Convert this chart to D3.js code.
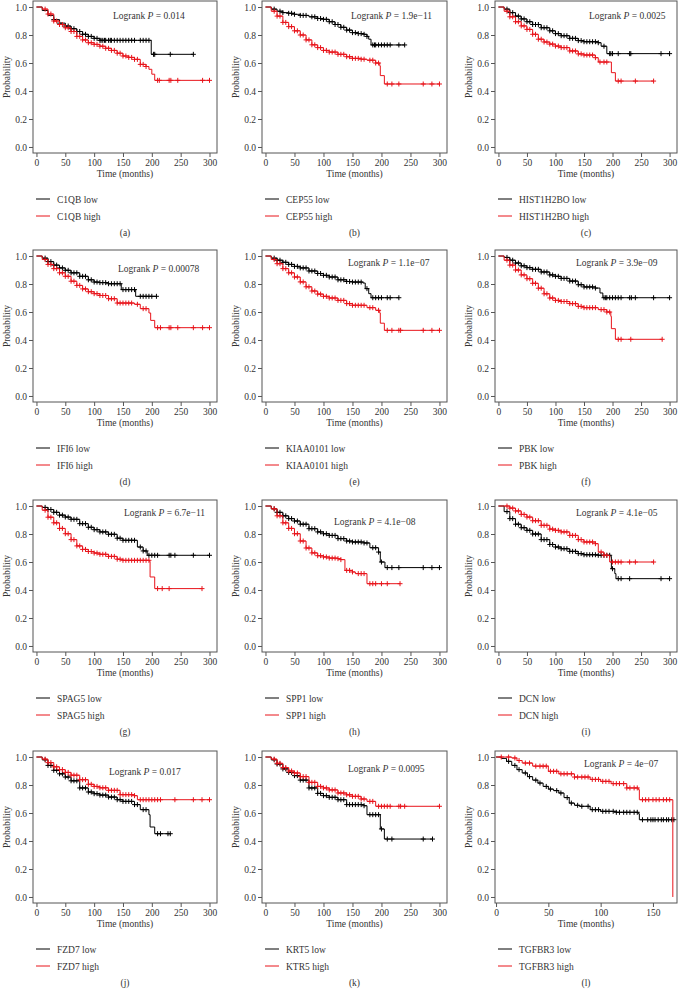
<!DOCTYPE html>
<html><head><meta charset="utf-8">
<script src="https://cdn.jsdelivr.net/npm/d3@7"></script>
<style>
body{margin:0;background:#fff}
text{font-family:"Liberation Serif","DejaVu Serif",serif;fill:#333}
</style>
</head><body><svg id="c" width="678" height="998"></svg>
<script>
// ---------------- DATA ----------------
const genesLow  = ["C1QB low","CEP55 low","HIST1H2BO low","IFI6 low","KIAA0101 low","PBK low","SPAG5 low","SPP1 low","DCN low","FZD7 low","KRT5 low","TGFBR3 low"];
const genesHigh = ["C1QB high","CEP55 high","HIST1H2BO high","IFI6 high","KIAA0101 high","PBK high","SPAG5 high","SPP1 high","DCN high","FZD7 high","KTR5 high","TGFBR3 high"];
const pValues = ["0.014","1.9e\u221211","0.0025","0.00078","1.1e\u221207","3.9e\u221209","6.7e\u221211","4.1e\u221208","4.1e\u221205","0.017","0.0095","4e\u221207"];
const panelTags = ["(a)","(b)","(c)","(d)","(e)","(f)","(g)","(h)","(i)","(j)","(k)","(l)"];
const yTicks = [0,0.2,0.4,0.6,0.8,1.0];
const xTicks300 = [0,50,100,150,200,250,300];
const xTicks150 = [0,50,100,150];

// (a) C1QB
const c1qbLow = [[0,1],[10,0.975],[20,0.94],[30,0.91],[40,0.885],[50,0.864],[60,0.845],[70,0.825],[80,0.805],[90,0.79],[100,0.776],[110,0.762],[199,0.662],[272,0.662]];
const c1qbLowCens = [30,40,50,55,60,65,70,75,80,85,90,95,100,105,110,112,115,118,120,125,128,130,135,140,145,150,155,160,165,170,180,185,190,195,203,205,232,272];
const c1qbHigh = [[0,1],[10,0.985],[20,0.95],[30,0.9],[40,0.875],[50,0.852],[60,0.825],[70,0.79],[80,0.765],[90,0.745],[100,0.733],[110,0.72],[120,0.705],[130,0.69],[140,0.67],[150,0.65],[160,0.64],[170,0.626],[180,0.59],[190,0.575],[195,0.555],[200,0.52],[205,0.476],[300,0.476]];
const c1qbHighCens = [15,20,25,30,35,40,45,50,55,60,65,70,75,80,85,90,95,100,105,110,115,120,125,130,135,140,145,150,155,160,165,170,175,180,185,190,210,213,230,233,245,288,300];
// (b) CEP55
const cep55Low = [[0,1],[10,0.985],[20,0.97],[30,0.96],[40,0.955],[50,0.948],[60,0.94],[75,0.93],[90,0.918],[100,0.912],[110,0.895],[120,0.875],[130,0.855],[140,0.835],[150,0.817],[160,0.81],[170,0.805],[175,0.79],[178,0.77],[182,0.729],[240,0.729]];
const cep55LowCens = [15,25,30,40,45,50,60,65,70,80,85,90,95,100,105,110,115,120,125,130,135,140,145,150,155,160,165,170,175,185,188,190,195,200,205,210,215,230,240];
const cep55High = [[0,1],[10,0.97],[20,0.935],[30,0.89],[40,0.86],[50,0.83],[60,0.8],[70,0.765],[80,0.73],[90,0.71],[100,0.69],[110,0.678],[125,0.662],[140,0.645],[150,0.633],[165,0.627],[175,0.62],[190,0.6],[197,0.58],[198,0.51],[205,0.45],[300,0.45]];
const cep55HighCens = [15,20,25,30,35,40,45,50,55,60,65,70,75,80,85,90,95,100,105,110,115,120,125,130,135,140,145,150,155,160,165,170,180,185,190,195,210,218,230,272,287,300];
// (c) HIST1H2BO
const histLow = [[0,1],[10,0.985],[20,0.96],[30,0.935],[40,0.915],[50,0.895],[60,0.875],[75,0.852],[90,0.83],[100,0.81],[110,0.795],[125,0.776],[140,0.76],[150,0.752],[175,0.745],[180,0.72],[190,0.667],[300,0.667]];
const histLowCens = [15,20,25,30,35,40,45,50,55,60,65,70,75,80,85,90,95,100,105,110,115,120,125,130,135,140,145,150,155,160,165,170,175,185,195,197,200,210,230,232,285,300];
const histHigh = [[0,1],[10,0.97],[20,0.93],[30,0.895],[40,0.865],[50,0.84],[60,0.805],[70,0.77],[80,0.75],[90,0.735],[100,0.721],[110,0.71],[125,0.686],[140,0.665],[150,0.657],[170,0.638],[175,0.607],[195,0.607],[198,0.531],[205,0.471],[272,0.471]];
const histHighCens = [15,20,25,30,35,40,45,50,55,60,65,70,75,80,85,90,95,100,105,110,115,120,125,130,135,140,145,150,155,160,165,170,178,185,190,210,215,240,272];
// (d) IFI6
const ifi6Low = [[0,1],[10,0.985],[20,0.96],[30,0.935],[40,0.915],[50,0.898],[60,0.88],[75,0.855],[90,0.83],[100,0.814],[110,0.81],[125,0.802],[147,0.76],[172,0.712],[208,0.712]];
const ifi6LowCens = [15,20,25,30,35,40,45,50,55,60,65,70,75,80,85,90,95,100,105,110,115,120,125,130,135,140,145,150,155,160,165,170,180,185,190,195,200,208];
const ifi6High = [[0,1],[10,0.975],[20,0.94],[30,0.91],[40,0.88],[50,0.855],[60,0.82],[70,0.79],[80,0.765],[90,0.745],[100,0.731],[110,0.718],[125,0.695],[140,0.664],[170,0.655],[180,0.624],[195,0.593],[198,0.54],[205,0.488],[300,0.488]];
const ifi6HighCens = [15,20,25,30,35,40,45,50,55,60,65,70,75,80,85,90,95,100,105,110,115,120,125,130,135,140,145,150,155,160,165,175,185,190,210,215,230,233,245,272,288,300];
// (e) KIAA0101
const kiaaLow = [[0,1],[10,0.985],[20,0.97],[30,0.955],[40,0.94],[50,0.926],[60,0.915],[75,0.893],[90,0.875],[100,0.862],[110,0.85],[125,0.83],[140,0.818],[150,0.814],[168,0.807],[172,0.767],[178,0.731],[182,0.702],[230,0.702]];
const kiaaLowCens = [15,20,25,30,35,40,45,50,55,60,65,70,75,80,85,90,95,100,105,110,115,120,125,130,135,140,145,150,155,160,165,175,185,190,195,200,210,215,230];
const kiaaHigh = [[0,1],[10,0.975],[20,0.945],[30,0.91],[40,0.88],[50,0.85],[60,0.815],[70,0.78],[80,0.75],[90,0.728],[100,0.712],[110,0.7],[125,0.683],[140,0.66],[150,0.648],[175,0.631],[190,0.612],[197,0.593],[198,0.52],[205,0.469],[300,0.469]];
const kiaaHighCens = [15,20,25,30,35,40,45,50,55,60,65,70,75,80,85,90,95,100,105,110,115,120,125,130,135,140,145,150,155,160,165,170,180,185,195,210,218,230,233,272,287,300];
// (f) PBK
const pbkLow = [[0,1],[10,0.99],[20,0.97],[30,0.95],[40,0.93],[50,0.917],[60,0.905],[75,0.886],[90,0.865],[100,0.855],[110,0.84],[125,0.821],[140,0.795],[150,0.779],[170,0.771],[178,0.736],[183,0.702],[300,0.702]];
const pbkLowCens = [15,20,25,30,35,40,45,50,55,60,65,70,75,80,85,90,95,100,105,110,115,120,125,130,135,140,145,150,155,160,165,170,185,188,190,195,200,205,210,215,230,233,240,272,300];
const pbkHigh = [[0,1],[10,0.97],[20,0.935],[30,0.9],[40,0.865],[50,0.838],[60,0.805],[70,0.77],[80,0.73],[90,0.7],[100,0.683],[110,0.675],[125,0.66],[140,0.64],[150,0.631],[175,0.617],[190,0.6],[197,0.569],[198,0.481],[205,0.405],[287,0.405]];
const pbkHighCens = [15,20,25,30,35,40,45,50,55,60,65,70,75,80,85,90,95,100,105,110,115,120,125,130,135,140,145,150,155,160,165,170,180,185,190,195,210,215,232,287];
// (g) SPAG5
const spag5Low = [[0,1],[10,0.99],[20,0.975],[30,0.955],[40,0.935],[50,0.921],[60,0.905],[75,0.874],[90,0.848],[100,0.831],[110,0.815],[125,0.798],[140,0.77],[150,0.755],[165,0.755],[175,0.707],[185,0.679],[192,0.648],[300,0.648]];
const spag5LowCens = [15,20,25,30,35,40,45,50,55,60,65,70,75,80,85,90,95,100,105,110,115,120,125,130,135,140,145,150,155,160,165,170,180,185,190,195,200,205,210,230,233,240,272,300];
const spag5High = [[0,1],[10,0.97],[20,0.92],[30,0.88],[40,0.84],[50,0.802],[60,0.76],[70,0.715],[80,0.69],[90,0.675],[100,0.664],[110,0.655],[125,0.64],[140,0.62],[150,0.612],[196,0.605],[197,0.493],[205,0.41],[287,0.41]];
const spag5HighCens = [15,20,25,30,35,40,45,50,55,60,65,70,75,80,85,90,95,100,105,110,115,120,125,130,135,140,145,150,155,160,165,170,175,180,185,190,195,210,218,230,287];
// (h) SPP1
const spp1Low = [[0,1],[10,0.98],[20,0.955],[30,0.93],[40,0.91],[50,0.893],[60,0.87],[75,0.838],[90,0.815],[100,0.802],[110,0.79],[125,0.767],[140,0.75],[150,0.743],[170,0.736],[180,0.702],[195,0.671],[198,0.6],[206,0.56],[300,0.56]];
const spp1LowCens = [15,20,25,30,35,40,45,50,55,60,65,70,75,80,85,90,95,100,105,110,115,120,125,130,135,140,145,150,155,160,165,170,175,185,190,195,200,210,218,230,272,287,300];
const spp1High = [[0,1],[10,0.98],[20,0.93],[30,0.88],[40,0.84],[50,0.802],[60,0.75],[70,0.7],[80,0.665],[90,0.645],[100,0.636],[110,0.628],[125,0.624],[130,0.617],[137,0.54],[150,0.529],[155,0.517],[175,0.445],[232,0.445]];
const spp1HighCens = [15,20,25,30,35,40,45,50,55,60,65,70,75,80,85,90,95,100,105,110,115,120,125,130,140,145,150,160,165,170,180,185,190,200,210,232];
// (i) DCN
const dcnLow = [[0,1],[10,0.96],[20,0.91],[30,0.87],[40,0.845],[50,0.826],[60,0.8],[75,0.76],[90,0.725],[100,0.707],[110,0.695],[125,0.676],[140,0.66],[150,0.652],[175,0.648],[197,0.64],[198,0.552],[204,0.517],[206,0.481],[300,0.481]];
const dcnLowCens = [15,20,25,30,35,40,45,50,55,60,65,70,75,80,85,90,95,100,105,110,115,120,125,130,135,140,145,150,155,160,165,170,175,180,185,190,195,200,210,215,230,285,300];
const dcnHigh = [[0,1],[10,1],[20,0.985],[30,0.965],[40,0.94],[50,0.921],[60,0.895],[75,0.862],[90,0.835],[100,0.826],[110,0.815],[125,0.79],[140,0.76],[150,0.743],[170,0.731],[175,0.671],[185,0.648],[195,0.6],[272,0.6]];
const dcnHighCens = [15,20,25,30,35,40,45,50,55,60,65,70,75,80,85,90,95,100,105,110,115,120,125,130,135,140,145,150,155,160,165,170,180,185,190,200,205,210,215,230,240,272];
// (j) FZD7
const fzd7Low = [[0,1],[10,0.98],[20,0.94],[30,0.905],[40,0.88],[50,0.857],[60,0.83],[75,0.779],[90,0.75],[100,0.738],[110,0.728],[125,0.714],[140,0.695],[150,0.683],[170,0.66],[180,0.624],[195,0.588],[197,0.5],[205,0.452],[232,0.452]];
const fzd7LowCens = [15,20,25,30,35,40,45,50,55,60,65,70,75,80,85,90,95,100,105,110,115,120,125,130,135,140,145,150,155,160,165,170,175,185,190,210,215,228,232];
const fzd7High = [[0,1],[10,0.985],[20,0.96],[30,0.93],[40,0.91],[50,0.89],[60,0.87],[75,0.838],[90,0.805],[100,0.79],[110,0.78],[125,0.762],[145,0.731],[170,0.724],[175,0.695],[300,0.695]];
const fzd7HighCens = [15,20,25,30,35,40,45,50,55,60,65,70,75,80,85,90,95,100,105,110,115,120,125,130,135,140,145,150,155,160,165,170,180,185,190,195,200,205,210,215,240,272,287,300];
// (k) KRT5
const krt5Low = [[0,1],[10,0.98],[20,0.95],[30,0.915],[40,0.89],[50,0.867],[60,0.835],[75,0.779],[90,0.74],[100,0.724],[110,0.712],[125,0.695],[140,0.66],[170,0.652],[175,0.588],[198,0.486],[205,0.414],[288,0.414]];
const krt5LowCens = [15,20,25,30,35,40,45,50,55,60,65,70,75,80,85,90,95,100,105,110,115,120,125,130,135,140,145,150,155,160,165,170,180,185,190,195,200,210,218,272,288];
const krt5High = [[0,1],[10,0.985],[20,0.955],[30,0.925],[40,0.9],[50,0.886],[60,0.86],[75,0.819],[90,0.79],[100,0.779],[110,0.765],[125,0.743],[140,0.73],[150,0.719],[165,0.7],[175,0.683],[190,0.648],[300,0.648]];
const krt5HighCens = [15,20,25,30,35,40,45,50,55,60,65,70,75,80,85,90,95,100,105,110,115,120,125,130,135,140,145,150,155,160,165,170,180,185,195,200,205,210,215,230,233,240,300];
// (l) TGFBR3
const tgfLow = [[0,1],[5,0.99],[10,0.969],[15,0.94],[20,0.91],[25,0.886],[30,0.86],[35,0.835],[40,0.814],[45,0.79],[50,0.771],[55,0.76],[60,0.743],[65,0.71],[70,0.671],[75,0.655],[80,0.648],[90,0.624],[100,0.612],[115,0.605],[136,0.595],[137,0.552],[170,0.552]];
const tgfLowCens = [12,18,22,28,32,38,42,48,52,58,62,68,72,78,82,88,92,95,98,102,105,108,112,115,118,122,125,128,132,135,140,145,148,150,152,155,158,160,163,165,168,170];
const tgfHigh = [[0,1],[15,0.993],[20,0.975],[25,0.957],[35,0.935],[50,0.898],[60,0.88],[75,0.857],[90,0.84],[100,0.826],[110,0.81],[125,0.779],[136,0.767],[137,0.695],[169,0]];
const tgfHighCens = [5,12,18,22,28,32,38,42,45,48,52,55,58,62,65,68,72,75,78,82,85,88,92,95,98,102,105,108,112,115,118,122,125,128,132,135,140,143,146,150,153,156,160,163,166];

const lowCurves  = [c1qbLow,cep55Low,histLow,ifi6Low,kiaaLow,pbkLow,spag5Low,spp1Low,dcnLow,fzd7Low,krt5Low,tgfLow];
const lowCens    = [c1qbLowCens,cep55LowCens,histLowCens,ifi6LowCens,kiaaLowCens,pbkLowCens,spag5LowCens,spp1LowCens,dcnLowCens,fzd7LowCens,krt5LowCens,tgfLowCens];
const highCurves = [c1qbHigh,cep55High,histHigh,ifi6High,kiaaHigh,pbkHigh,spag5High,spp1High,dcnHigh,fzd7High,krt5High,tgfHigh];
const highCens   = [c1qbHighCens,cep55HighCens,histHighCens,ifi6HighCens,kiaaHighCens,pbkHighCens,spag5HighCens,spp1HighCens,dcnHighCens,fzd7HighCens,krt5HighCens,tgfHighCens];

// ---------------- LAYOUT ----------------
const colFrames = [[33,217],[262,447],[495,677]];
const rowTops = [1,250,500,751];
const frameH = 152;
const logrankPos = [[80,18],[89,18],[94,18],[85,22],[86,16],[81,16],[91,16],[72,25],[81,16],[76,24],[86,21],[89,16]];
const LOW_COLOR = "rgb(0,0,0)", HIGH_COLOR = "rgb(232,20,27)", AXIS_COLOR = "#555";

const svg = d3.select("#c");

function stepVal(curve, t){
  let v = curve[0][1];
  for (const [tt,p] of curve){ if (tt <= t) v = p; else break; }
  return v;
}

for (let i=0;i<12;i++){
  const col = i%3, row = Math.floor(i/3);
  const [fx0,fx1] = colFrames[col];
  const top = rowTops[row];
  const isL = (i===11);
  const xDom = isL ? [-1,173] : [-6,313];
  const x = d3.scaleLinear().domain(xDom).range([fx0,fx1]);
  const y = d3.scaleLinear().domain([-0.043,1.043]).range([top+frameH, top]);
  const g = svg.append("g");

  g.append("rect").attr("x",fx0).attr("y",top).attr("width",fx1-fx0).attr("height",frameH)
    .style("fill","none").style("stroke",AXIS_COLOR).style("stroke-width",1);

  const ya = g.append("g").attr("transform",`translate(${fx0},0)`)
    .call(d3.axisLeft(y).tickValues(yTicks).tickFormat(d3.format(".1f")).tickSize(4).tickPadding(2));
  ya.select(".domain").remove();
  ya.selectAll("line").style("stroke",AXIS_COLOR);
  ya.selectAll("text").style("font-size","9.5px").style("fill","#333");

  const xa = g.append("g").attr("transform",`translate(0,${top+frameH})`)
    .call(d3.axisBottom(x).tickValues(isL?xTicks150:xTicks300).tickSize(4).tickPadding(2));
  xa.select(".domain").remove();
  xa.selectAll("line").style("stroke",AXIS_COLOR);
  xa.selectAll("text").style("font-size","9.5px").style("fill","#333");

  g.append("text").attr("x",(fx0+fx1)/2).attr("y",top+frameH+24).attr("text-anchor","middle")
    .style("font-size","9.5px").text("Time (months)");
  g.append("text").attr("transform",`translate(${fx0-23},${top+frameH/2}) rotate(-90)`)
    .attr("text-anchor","middle").style("font-size","9.5px").text("Probability");

  const line = d3.line().x(d=>x(d[0])).y(d=>y(d[1])).curve(d3.curveStepAfter);
  const series = [
    {curve:lowCurves[i], cens:lowCens[i], color:LOW_COLOR},
    {curve:highCurves[i], cens:highCens[i], color:HIGH_COLOR}
  ];
  series.forEach(s=>{
    g.append("path").datum(s.curve).attr("d",line)
      .style("fill","none").style("stroke",s.color).style("stroke-width",1);
    g.append("g").selectAll("path").data(s.cens).enter().append("path")
      .attr("d",d=>{const cx=x(d), cy=y(stepVal(s.curve,d)); return `M${cx-2.5},${cy}H${cx+2.5}M${cx},${cy-2.5}V${cy+2.5}`;})
      .style("fill","none").style("stroke",s.color).style("stroke-width",1);
  });

  const lt = g.append("text").attr("x",fx0+logrankPos[i][0]).attr("y",top+logrankPos[i][1]).style("font-size","9.5px");
  lt.append("tspan").text("Logrank ");
  lt.append("tspan").style("font-style","italic").text("P");
  lt.append("tspan").text(" = "+pValues[i]);

  const ly0 = top+frameH+46, ly1 = top+frameH+63;
  [[ly0,LOW_COLOR,genesLow[i]],[ly1,HIGH_COLOR,genesHigh[i]]].forEach(([ly,c,t])=>{
    g.append("line").attr("x1",fx0+3).attr("x2",fx0+17).attr("y1",ly).attr("y2",ly)
      .style("stroke",c).style("stroke-width",1);
    g.append("text").attr("x",fx0+24).attr("y",ly+3.5).style("font-size","9.5px").text(t);
  });

  g.append("text").attr("x",(fx0+fx1)/2).attr("y",top+frameH+83).attr("text-anchor","middle")
    .style("font-size","9.5px").text(panelTags[i]);
}
</script>
</body></html>
